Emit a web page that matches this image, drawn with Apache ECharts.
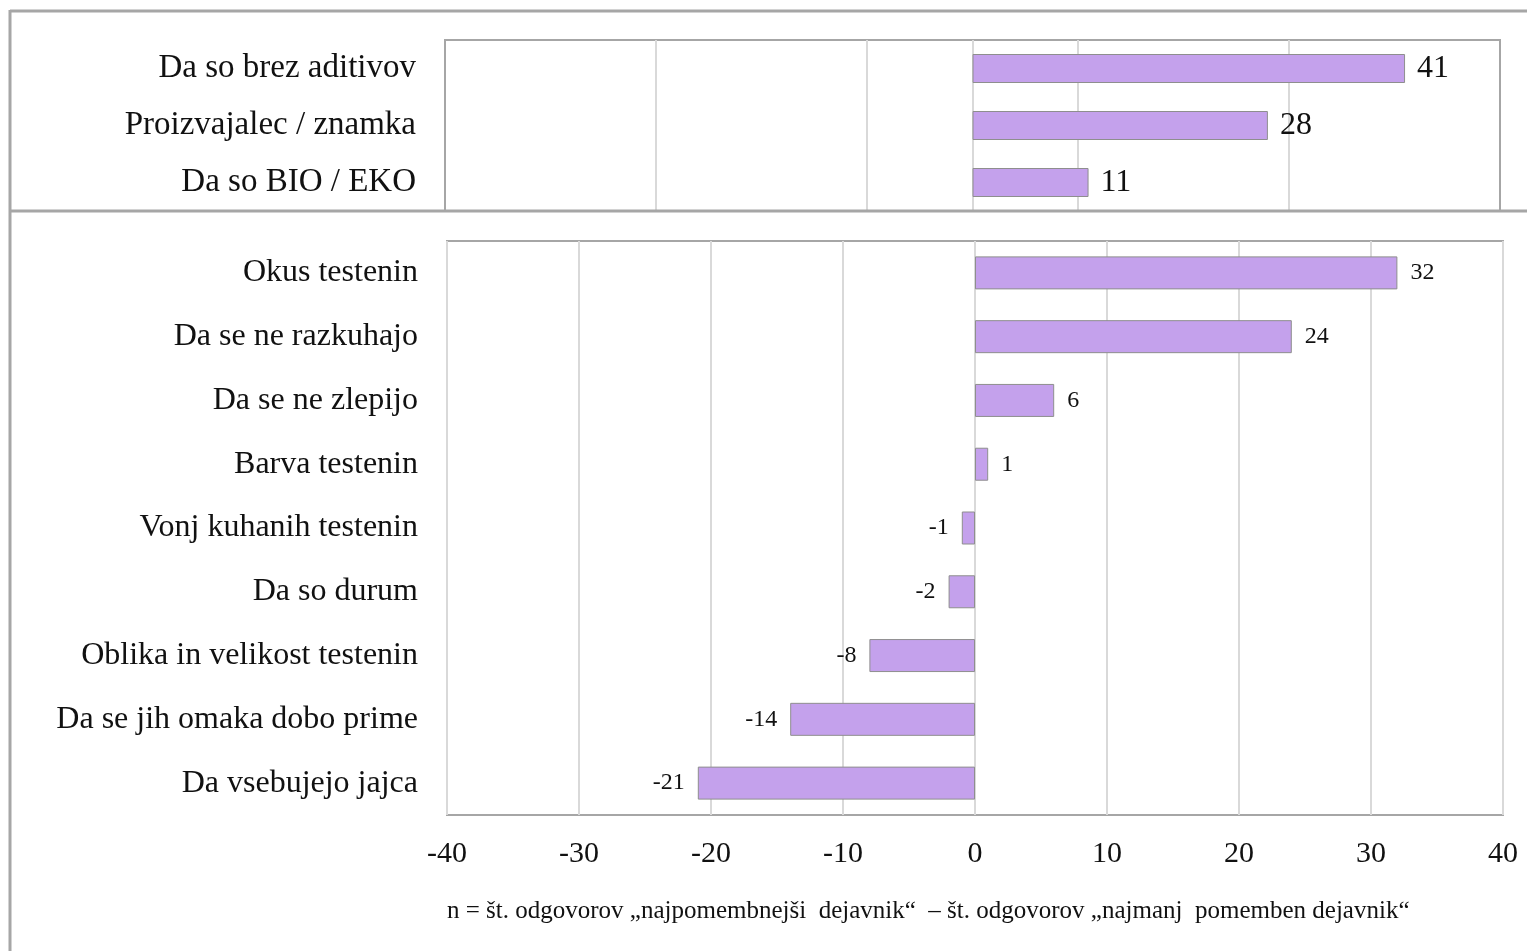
<!DOCTYPE html>
<html>
<head>
<meta charset="utf-8">
<script src="https://cdn.jsdelivr.net/npm/echarts@6/dist/echarts.min.js"></script>
<style>
  html, body { margin: 0; padding: 0; background: #fff; }
  #chart { width: 1527px; height: 951px; }
</style>
</head>
<body>
<div id="chart"></div>
<script>
// Upper panel: additional factors
const topCategories = ['Da so brez aditivov', 'Proizvajalec / znamka', 'Da so BIO / EKO'];
const topValues = [41, 28, 11];

// Lower panel: pasta properties
const mainCategories = [
  'Okus testenin', 'Da se ne razkuhajo', 'Da se ne zlepijo', 'Barva testenin',
  'Vonj kuhanih testenin', 'Da so durum', 'Oblika in velikost testenin',
  'Da se jih omaka dobo prime', 'Da vsebujejo jajca'
];
const mainValues = [32, 24, 6, 1, -1, -2, -8, -14, -21];

const footnote = 'n = št. odgovorov \u201Enajpomembnejši  dejavnik\u201C  \u2013 št. odgovorov \u201Enajmanj  pomemben dejavnik\u201C';

const SERIF = '"Liberation Serif", "DejaVu Serif", serif';
const BAR_FILL = '#C4A1EC';
const BAR_EDGE = '#8E8E8E';
const GRID_LINE = '#D9D9D9';
const FRAME = '#A6A6A6';
const G = 'rgba(0,0,0,0)';

const chart = echarts.init(document.getElementById('chart'), null, { renderer: 'canvas' });

chart.setOption({
  backgroundColor: '#fff',
  animation: false,
  grid: [
    { left: 445, top: 40, width: 1055, height: 171, show: true, borderColor: FRAME, borderWidth: 2, backgroundColor: '#fff' },
    { left: 447, top: 241, width: 1056, height: 574, show: true, borderColor: FRAME, borderWidth: 2, backgroundColor: '#fff' }
  ],
  xAxis: [
    {
      gridIndex: 0, type: 'value', min: -50, max: 50, interval: 10,
      axisLine: { show: false }, axisTick: { show: false }, axisLabel: { show: false },
      // lines only at -30, -10, 0, 10, 30
      splitLine: { show: true, lineStyle: { width: 2, color: [G, G, GRID_LINE, G, GRID_LINE, GRID_LINE, GRID_LINE, G, GRID_LINE, G, G] } }
    },
    {
      gridIndex: 1, type: 'value', min: -40, max: 40, interval: 10,
      axisLine: { show: false }, axisTick: { show: false },
      axisLabel: { show: true, fontFamily: SERIF, fontSize: 30, color: '#111', margin: 24 },
      splitLine: { show: true, lineStyle: { width: 2, color: GRID_LINE } }
    }
  ],
  yAxis: [
    {
      gridIndex: 0, type: 'category', data: topCategories, inverse: true,
      axisLine: { show: false }, axisTick: { show: false },
      axisLabel: { fontFamily: SERIF, fontSize: 33, color: '#111', margin: 29, padding: [5, 0, 0, 0] }
    },
    {
      gridIndex: 1, type: 'category', data: mainCategories, inverse: true,
      axisLine: { show: false }, axisTick: { show: false },
      axisLabel: { fontFamily: SERIF, fontSize: 32, color: '#111', margin: 29, padding: [3, 0, 0, 0] }
    }
  ],
  series: [
    {
      type: 'bar', xAxisIndex: 0, yAxisIndex: 0, data: topValues,
      barWidth: 29,
      itemStyle: { color: BAR_FILL, borderColor: BAR_EDGE, borderWidth: 1 },
      label: { show: true, position: 'right', distance: 12, fontFamily: SERIF, fontSize: 32, color: '#111', padding: [4, 0, 0, 0] }
    },
    {
      type: 'bar', xAxisIndex: 1, yAxisIndex: 1,
      // negative values take their label on the left of the bar
      data: mainValues.map(v => v < 0 ? { value: v, label: { position: 'left' } } : { value: v }),
      barWidth: 33,
      itemStyle: { color: BAR_FILL, borderColor: BAR_EDGE, borderWidth: 1 },
      label: {
        show: true, fontFamily: SERIF, fontSize: 24, color: '#111',
        position: 'right', distance: 13, padding: [2, 0, 0, 0]
      }
    }
  ],
  graphic: [
    // outer frame: top edge, left edge, panel separator
    { type: 'line', shape: { x1: 10, y1: 11, x2: 1527, y2: 11 }, style: { stroke: FRAME, lineWidth: 3 }, z: 100 },
    { type: 'line', shape: { x1: 10, y1: 10, x2: 10, y2: 951 }, style: { stroke: FRAME, lineWidth: 3 }, z: 100 },
    { type: 'line', shape: { x1: 10, y1: 211, x2: 1527, y2: 211 }, style: { stroke: FRAME, lineWidth: 3 }, z: 100 },
    {
      type: 'text', left: 447, top: 899, z: 100,
      style: { text: footnote, font: '25px ' + SERIF, fill: '#111' }
    }
  ]
});
</script>
</body>
</html>
